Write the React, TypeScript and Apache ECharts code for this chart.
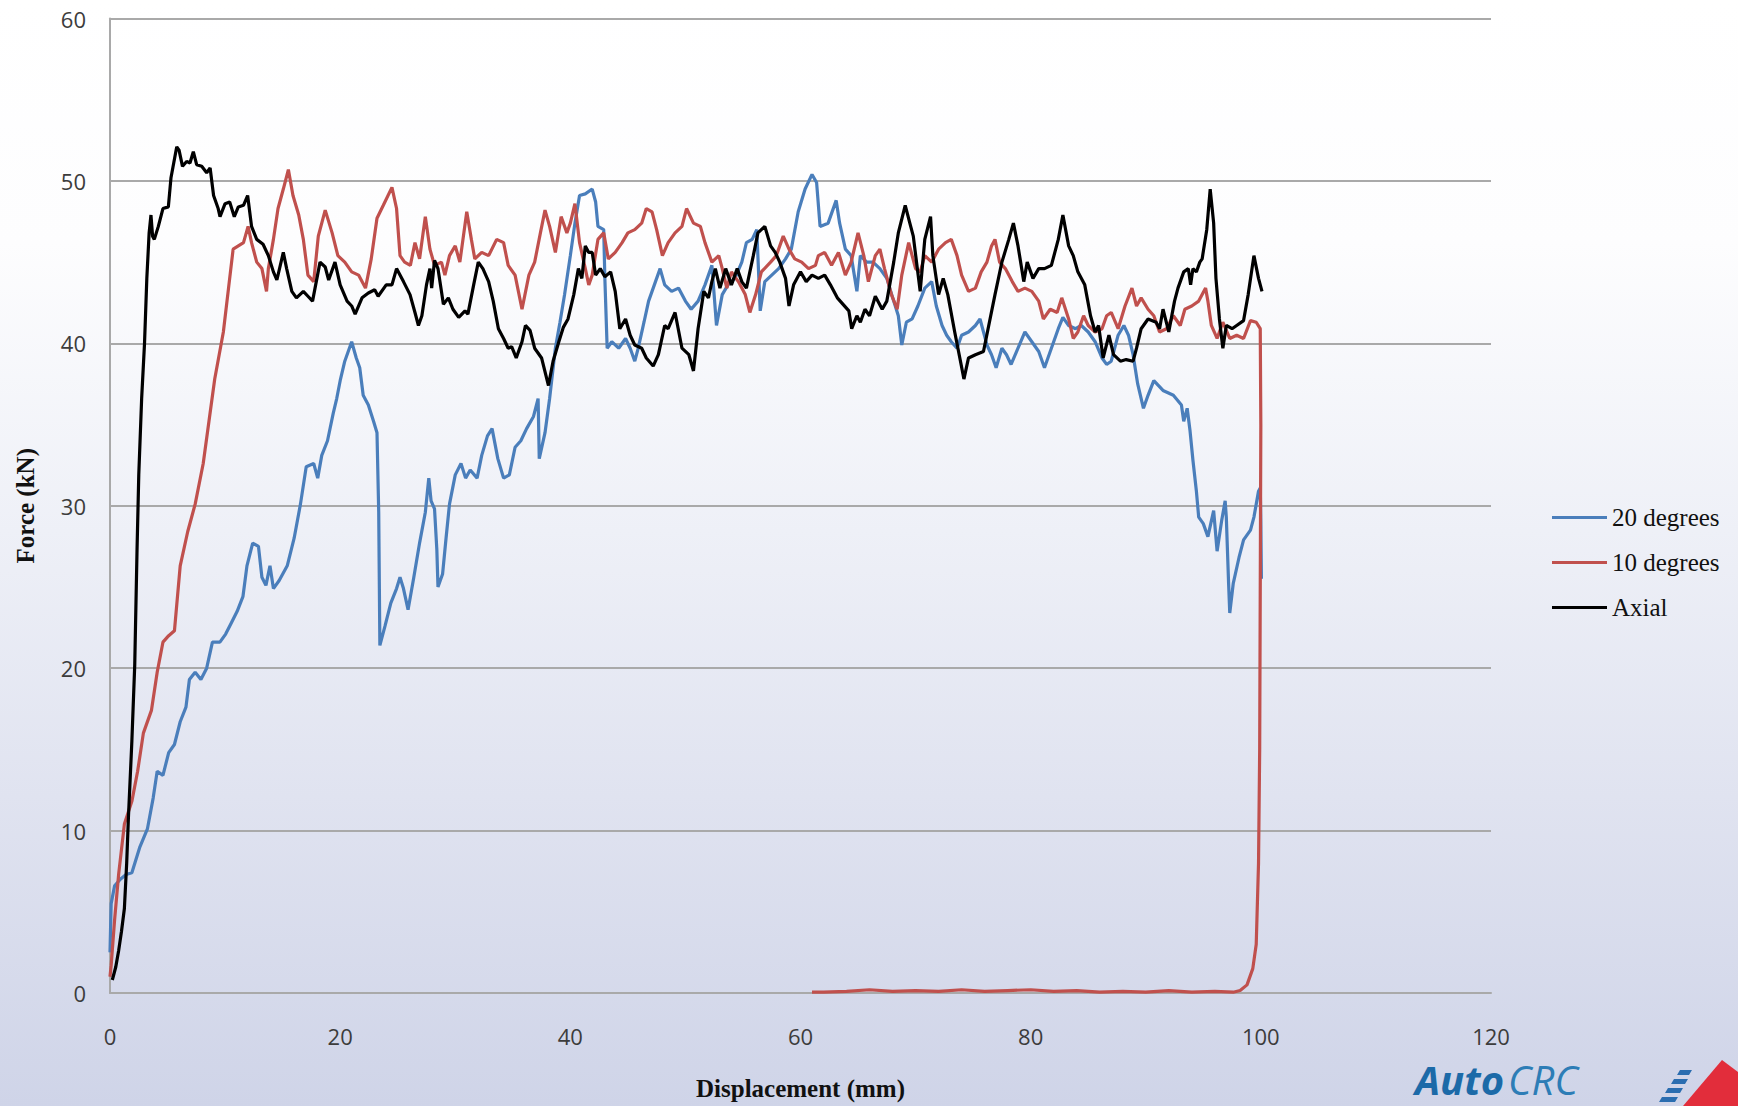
import React, { useEffect, useRef } from "react";
import * as echarts from "echarts";

const xTicks = { min: 0, max: 120, interval: 20 };
const yTicks = { min: 0, max: 60, interval: 10 };
const seriesNames = ["20 degrees", "10 degrees", "Axial"];
const seriesColors = ["#4a7ebb", "#c0504d", "#000000"];

const deg20: number[][] = [
  [0, 2.5], [0.1, 5.5], [0.4, 6.6], [0.9, 7.0], [1.4, 7.3], [1.9, 7.4], [2.6, 9.0], [3.25, 10.1], [3.75, 12.0], [4.1, 13.65],
  [4.6, 13.4], [5.1, 14.8], [5.6, 15.3], [6.1, 16.7], [6.6, 17.6], [6.9, 19.3], [7.4, 19.75], [7.9, 19.3], [8.4, 20.0], [8.9, 21.6],
  [9.55, 21.6], [10.05, 22.1], [10.55, 22.8], [11.05, 23.5], [11.55, 24.4], [11.9, 26.3], [12.4, 27.7], [12.9, 27.5], [13.2, 25.6], [13.55, 25.1],
  [13.9, 26.3], [14.2, 24.9], [14.7, 25.4], [15.4, 26.3], [16.0, 28.0], [16.55, 30.1], [17.05, 32.4], [17.7, 32.6], [18.05, 31.7], [18.4, 33.1],
  [18.9, 34.0], [19.4, 35.7], [19.7, 36.6], [20.0, 37.7], [20.4, 38.9], [21.0, 40.1], [21.4, 39.1], [21.7, 38.5], [22.0, 36.8], [22.45, 36.2],
  [22.9, 35.2], [23.2, 34.5], [23.35, 29.6], [23.45, 21.4], [23.9, 22.6], [24.4, 24.0], [24.9, 24.9], [25.2, 25.6], [25.5, 24.9], [25.9, 23.6],
  [26.4, 25.6], [26.9, 27.7], [27.4, 29.6], [27.7, 31.7], [27.9, 30.3], [28.2, 29.8], [28.4, 27.3], [28.5, 25.0], [28.9, 25.8], [29.2, 28.0],
  [29.5, 30.1], [30.0, 31.9], [30.5, 32.6], [30.9, 31.7], [31.3, 32.2], [31.9, 31.7], [32.3, 33.1], [32.8, 34.3], [33.2, 34.75], [33.7, 32.9],
  [34.2, 31.7], [34.7, 31.9], [35.2, 33.6], [35.7, 34.0], [36.2, 34.75], [36.8, 35.5], [37.2, 36.6], [37.3, 32.9], [37.8, 34.5], [38.2, 36.6],
  [38.7, 39.7], [39.1, 41.3], [39.5, 43.0], [40.0, 45.4], [40.4, 47.4], [40.8, 49.1], [41.3, 49.2], [41.9, 49.5], [42.2, 48.7], [42.4, 47.2],
  [42.9, 47.0], [43.0, 44.0], [43.2, 39.7], [43.6, 40.1], [44.2, 39.7], [44.8, 40.3], [45.2, 39.7], [45.6, 38.9], [45.9, 39.7], [46.4, 41.3],
  [46.8, 42.6], [47.4, 43.8], [47.8, 44.6], [48.2, 43.6], [48.8, 43.2], [49.4, 43.4], [50.0, 42.6], [50.5, 42.1], [51.1, 42.6], [51.7, 43.6],
  [52.3, 44.8], [52.7, 41.1], [53.2, 43.0], [53.7, 43.6], [54.3, 44.0], [54.9, 45.0], [55.3, 46.2], [55.8, 46.4], [56.2, 47.0], [56.5, 42.0],
  [56.9, 43.8], [57.5, 44.2], [58.1, 44.6], [58.7, 45.2], [59.2, 45.8], [59.8, 48.1], [60.4, 49.5], [61.0, 50.4], [61.4, 49.9], [61.7, 47.2],
  [62.4, 47.4], [63.1, 48.8], [63.4, 47.4], [63.9, 45.8], [64.4, 45.4], [64.9, 43.2], [65.2, 45.4], [65.75, 45.0], [66.3, 45.0], [66.9, 44.6],
  [67.5, 44.0], [68.1, 42.6], [68.5, 41.7], [68.8, 39.9], [69.2, 41.3], [69.7, 41.5], [70.2, 42.3], [70.8, 43.4], [71.4, 43.8], [71.8, 42.3],
  [72.3, 41.1], [72.7, 40.5], [73.1, 40.1], [73.6, 39.7], [74.0, 40.5], [74.6, 40.7], [75.2, 41.1], [75.6, 41.5], [76.2, 39.9], [76.6, 39.3],
  [77.0, 38.5], [77.5, 39.7], [77.9, 39.3], [78.3, 38.7], [78.9, 39.7], [79.5, 40.7], [80.1, 40.1], [80.7, 39.5], [81.2, 38.5], [81.8, 39.7],
  [82.4, 40.9], [82.8, 41.6], [83.3, 41.1], [83.9, 40.9], [84.4, 41.1], [85.0, 40.7], [85.6, 40.1], [86.2, 39.1], [86.6, 38.7], [87.0, 38.9],
  [87.6, 40.5], [88.1, 41.1], [88.5, 40.5], [88.9, 39.3], [89.3, 37.5], [89.8, 36.0], [90.2, 36.8], [90.7, 37.7], [91.5, 37.1], [92.4, 36.8],
  [93.1, 36.2], [93.3, 35.2], [93.6, 36.0], [93.85, 34.6], [94.1, 32.8], [94.4, 30.9], [94.6, 29.3], [95.0, 28.9], [95.4, 28.1], [95.9, 29.7],
  [96.2, 27.2], [96.6, 29.1], [96.9, 30.3], [97.0, 29.3], [97.2, 25.2], [97.3, 23.4], [97.6, 25.2], [98.1, 26.8], [98.5, 27.9], [99.1, 28.5],
  [99.4, 29.3], [99.8, 30.9], [99.95, 31.1], [100.0, 29.0], [100.05, 25.5],
];

const deg10: number[][] = [
  [0, 1.0], [0.1, 1.7], [0.4, 4.5], [0.75, 7.3], [1.25, 10.4], [1.9, 11.8], [2.4, 13.65], [2.9, 16.0], [3.6, 17.4], [4.1, 19.75],
  [4.6, 21.6], [5.1, 22.0], [5.6, 22.3], [6.1, 26.3], [6.75, 28.4], [7.4, 30.1], [8.1, 32.6], [8.6, 35.2], [9.1, 37.8], [9.85, 40.7],
  [10.3, 43.4], [10.7, 45.8], [11.15, 46.0], [11.6, 46.2], [12.0, 47.2], [12.3, 46.2], [12.75, 45.0], [13.2, 44.6], [13.6, 43.2], [13.76, 44.6],
  [14.2, 46.4], [14.6, 48.3], [15.06, 49.5], [15.5, 50.7], [15.9, 49.1], [16.4, 47.9], [16.8, 46.4], [17.2, 44.2], [17.7, 43.8], [18.1, 46.6],
  [18.7, 48.2], [19.3, 46.8], [19.8, 45.4], [20.4, 45.0], [21.0, 44.4], [21.6, 44.2], [22.2, 43.4], [22.7, 45.2], [23.2, 47.7], [23.75, 48.5],
  [24.5, 49.6], [24.9, 48.3], [25.2, 45.4], [25.6, 45.0], [26.1, 44.8], [26.5, 46.2], [26.9, 45.2], [27.4, 47.8], [27.8, 45.8], [28.2, 44.8],
  [28.8, 45.0], [29.1, 44.2], [29.5, 45.4], [30.0, 46.0], [30.4, 45.0], [31.0, 48.1], [31.4, 46.4], [31.7, 45.2], [32.3, 45.6], [32.9, 45.4],
  [33.6, 46.4], [34.2, 46.2], [34.6, 44.8], [35.2, 44.2], [35.8, 42.1], [36.4, 44.2], [36.9, 45.0], [37.4, 46.8], [37.8, 48.2], [38.2, 47.2],
  [38.7, 45.6], [39.2, 47.8], [39.7, 46.8], [40.0, 47.4], [40.4, 48.6], [40.8, 46.2], [41.3, 44.6], [41.6, 43.6], [41.9, 44.2], [42.4, 46.4],
  [42.9, 46.8], [43.3, 45.2], [43.9, 45.6], [44.5, 46.2], [45.0, 46.8], [45.6, 47.0], [46.2, 47.4], [46.6, 48.3], [47.1, 48.1], [47.5, 47.0],
  [48.0, 45.4], [48.5, 46.2], [49.1, 46.8], [49.7, 47.2], [50.1, 48.3], [50.7, 47.4], [51.3, 47.2], [51.7, 46.2], [52.3, 45.0], [52.9, 45.4],
  [53.2, 44.6], [53.6, 43.4], [54.0, 44.4], [54.6, 43.8], [55.2, 43.0], [55.6, 41.9], [56.1, 43.0], [56.6, 44.4], [57.4, 45.0], [57.9, 45.4],
  [58.5, 46.6], [59.0, 45.8], [59.5, 45.2], [60.1, 45.0], [60.7, 44.6], [61.3, 44.8], [61.55, 45.4], [62.1, 45.6], [62.7, 44.8], [63.3, 45.6],
  [63.9, 44.2], [64.4, 45.0], [65.0, 46.8], [65.5, 45.4], [65.9, 43.8], [66.5, 45.4], [66.9, 45.8], [67.3, 44.6], [67.9, 43.0], [68.4, 42.1],
  [68.8, 44.2], [69.4, 46.2], [70.0, 44.6], [70.4, 44.4], [70.8, 45.4], [71.4, 45.0], [72.0, 45.8], [72.6, 46.2], [73.1, 46.4], [73.6, 45.4],
  [74.0, 44.2], [74.6, 43.2], [75.2, 43.4], [75.7, 44.4], [76.2, 45.0], [76.6, 46.0], [76.9, 46.4], [77.3, 45.0], [77.8, 44.6], [78.4, 43.8],
  [78.9, 43.2], [79.5, 43.4], [80.1, 43.2], [80.7, 42.6], [81.1, 41.5], [81.7, 42.1], [82.3, 41.9], [82.7, 42.8], [83.3, 41.5], [83.7, 40.3],
  [84.1, 40.7], [84.6, 41.7], [85.0, 41.1], [85.6, 40.7], [86.2, 40.9], [86.6, 41.7], [87.0, 41.9], [87.6, 40.9], [88.2, 42.3], [88.8, 43.4],
  [89.2, 42.3], [89.6, 42.8], [90.2, 42.1], [90.7, 41.7], [91.2, 40.7], [91.8, 40.9], [92.4, 41.7], [93.0, 41.1], [93.4, 42.1], [94.0, 42.3],
  [94.6, 42.6], [95.2, 43.4], [95.4, 42.6], [95.7, 41.1], [96.2, 40.3], [96.7, 41.3], [97.3, 40.3], [97.9, 40.5], [98.5, 40.3], [99.1, 41.4],
  [99.6, 41.3], [99.95, 40.9], [100.0, 35], [99.95, 25], [99.9, 15], [99.8, 8], [99.6, 3], [99.3, 1.5], [98.8, 0.5], [98.2, 0.15],
  [97.6, 0.05], [96, 0.1], [94, 0.05], [92, 0.15], [90, 0.05], [88, 0.1], [86, 0.05], [84, 0.15], [82, 0.1], [80, 0.2],
  [78, 0.15], [76, 0.1], [74, 0.2], [72, 0.1], [70, 0.15], [68, 0.1], [66, 0.2], [64, 0.1], [62, 0.05], [61, 0.05],
];

const axial: number[][] = [
  [0.2, 0.8], [0.5, 1.6], [0.75, 2.6], [1.0, 3.8], [1.25, 5.2], [1.45, 8], [1.6, 10.8], [1.9, 15.5], [2.15, 20.2], [2.35, 27.3],
  [2.5, 31.9], [2.75, 36.6], [3.0, 40], [3.2, 44], [3.4, 46.8], [3.56, 47.9], [3.7, 46.6], [3.85, 46.4], [4.2, 47.2], [4.6, 48.3],
  [5.07, 48.4], [5.3, 50.2], [5.8, 52.1], [6.0, 51.9], [6.3, 50.9], [6.66, 51.2], [6.95, 51.1], [7.24, 51.8], [7.53, 51.0], [7.97, 50.9],
  [8.4, 50.5], [8.7, 50.8], [9.0, 49.1], [9.4, 48.3], [9.56, 47.8], [10.0, 48.6], [10.4, 48.7], [10.8, 47.8], [11.15, 48.4], [11.6, 48.5],
  [11.96, 49.1], [12.3, 47.2], [12.75, 46.4], [13.3, 46.1], [13.76, 45.4], [14.2, 44.4], [14.5, 43.9], [15.06, 45.6], [15.35, 44.6], [15.8, 43.2],
  [16.2, 42.8], [16.8, 43.2], [17.2, 42.9], [17.6, 42.6], [18.25, 45.0], [18.7, 44.7], [19.0, 43.9], [19.55, 45.0], [20.0, 43.6], [20.6, 42.6],
  [21.0, 42.3], [21.3, 41.8], [21.9, 42.8], [22.45, 43.1], [23.0, 43.3], [23.3, 42.9], [24.0, 43.6], [24.5, 43.6], [24.9, 44.6], [25.5, 43.8],
  [26.07, 43.0], [26.5, 41.9], [26.8, 41.1], [27.1, 41.7], [27.5, 43.6], [27.8, 44.6], [27.95, 43.4], [28.2, 45.1], [28.5, 44.6], [28.97, 42.4],
  [29.4, 42.8], [29.8, 42.1], [30.3, 41.6], [30.85, 42.0], [31.1, 41.8], [31.6, 43.6], [32.0, 45.0], [32.4, 44.6], [32.9, 43.8], [33.3, 42.6],
  [33.75, 40.9], [34.2, 40.3], [34.6, 39.7], [34.9, 39.8], [35.3, 39.1], [35.8, 40.1], [36.1, 41.1], [36.5, 40.8], [36.9, 39.7], [37.5, 39.1],
  [38.1, 37.4], [38.5, 38.9], [39.0, 40.1], [39.4, 41.0], [39.8, 41.5], [40.3, 43.0], [40.7, 44.6], [41.0, 44.0], [41.3, 46.0], [41.6, 45.6],
  [41.9, 45.6], [42.2, 44.2], [42.6, 44.6], [43.0, 44.1], [43.5, 44.4], [43.9, 43.2], [44.3, 40.9], [44.8, 41.5], [45.2, 40.5], [45.6, 39.9],
  [46.2, 39.7], [46.6, 39.1], [47.2, 38.6], [47.65, 39.3], [48.2, 41.1], [48.5, 40.9], [49.1, 41.9], [49.7, 39.7], [50.3, 39.3], [50.7, 38.3],
  [51.1, 40.9], [51.6, 43.2], [52.0, 42.8], [52.3, 43.8], [52.6, 44.6], [53.0, 43.4], [53.5, 44.6], [54.0, 43.6], [54.5, 44.6], [54.9, 43.8],
  [55.3, 43.4], [55.9, 45.4], [56.3, 46.8], [56.9, 47.2], [57.4, 46.0], [57.8, 45.6], [58.2, 45.0], [58.7, 44.0], [59.0, 42.3], [59.4, 43.6],
  [60.0, 44.4], [60.5, 43.8], [61.0, 44.2], [61.55, 44.0], [62.1, 44.2], [62.6, 43.6], [63.2, 42.8], [63.7, 42.4], [64.2, 42.0], [64.45, 40.9],
  [64.9, 41.7], [65.2, 41.3], [65.6, 42.1], [66.0, 41.7], [66.5, 42.9], [67.1, 42.1], [67.5, 42.6], [68.1, 45.0], [68.5, 46.8], [69.1, 48.5],
  [69.5, 47.4], [69.8, 46.6], [70.4, 43.2], [70.8, 46.4], [71.3, 47.8], [71.5, 45.4], [72.0, 43.0], [72.4, 44.0], [72.8, 43.0], [73.4, 40.7],
  [73.9, 38.9], [74.2, 37.8], [74.6, 39.1], [75.2, 39.3], [75.9, 39.5], [76.3, 40.9], [76.9, 43.0], [77.5, 45.0], [78.1, 46.4], [78.5, 47.4],
  [78.9, 46.0], [79.4, 43.8], [79.7, 45.0], [80.2, 44.0], [80.7, 44.6], [81.2, 44.6], [81.8, 44.8], [82.4, 46.4], [82.8, 47.9], [83.3, 46.0],
  [83.7, 45.4], [84.1, 44.4], [84.7, 43.6], [85.2, 41.7], [85.6, 40.7], [85.9, 41.1], [86.3, 39.1], [86.8, 40.5], [87.2, 39.3], [87.8, 38.9],
  [88.3, 39.0], [88.9, 38.9], [89.2, 39.7], [89.6, 40.9], [90.2, 41.5], [90.9, 41.3], [91.2, 40.9], [91.5, 42.1], [92.0, 40.7], [92.5, 42.6],
  [92.8, 43.4], [93.3, 44.4], [93.7, 44.6], [93.9, 43.6], [94.1, 44.6], [94.4, 44.4], [94.7, 45.0], [94.9, 45.2], [95.3, 47.0], [95.6, 49.5],
  [95.9, 47.4], [96.1, 44.0], [96.4, 41.5], [96.7, 39.7], [97.0, 41.1], [97.5, 40.9], [97.9, 41.1], [98.5, 41.4], [98.9, 43.0], [99.4, 45.4],
  [99.8, 44.0], [100.1, 43.2],
];

const seriesData = [deg20, deg10, axial];

export default function App() {
  const ref = useRef<HTMLDivElement>(null);
  useEffect(() => {
    if (!ref.current) return;
    const chart = echarts.init(ref.current, null, { renderer: "svg" });
    const gridColor = "#a9a9a9";
    const option: any = {
      animation: false,
      backgroundColor: "transparent",
      grid: { left: 110, right: 247, top: 18.5, bottom: 108, containLabel: false },
      xAxis: {
        type: "value",
        min: xTicks.min,
        max: xTicks.max,
        interval: xTicks.interval,
        name: "Displacement (mm)",
        nameLocation: "middle",
        nameGap: 83,
        nameTextStyle: { fontFamily: "Liberation Serif", fontWeight: "bold", fontSize: 25, color: "#111" },
        axisLine: { show: true, lineStyle: { color: gridColor, width: 2 } },
        axisTick: { show: false },
        splitLine: { show: false },
        axisLabel: { fontFamily: "Open Sans", fontSize: 22, color: "#3c3c3c", margin: 32 },
      },
      yAxis: {
        type: "value",
        min: yTicks.min,
        max: yTicks.max,
        interval: yTicks.interval,
        name: "Force (kN)",
        nameLocation: "middle",
        nameGap: 72,
        nameTextStyle: { fontFamily: "Liberation Serif", fontWeight: "bold", fontSize: 25, color: "#111" },
        axisLine: { show: true, lineStyle: { color: gridColor, width: 2 } },
        axisTick: { show: false },
        splitLine: { show: true, lineStyle: { color: gridColor, width: 2 } },
        axisLabel: { fontFamily: "Open Sans", fontSize: 22, color: "#3c3c3c", margin: 24 },
      },
      legend: {
        orient: "vertical",
        left: 1552,
        top: 505,
        icon: "rect",
        itemWidth: 55,
        itemHeight: 3,
        itemGap: 20,
        padding: 0,
        textStyle: { fontFamily: "Liberation Serif", fontSize: 25, color: "#111", lineHeight: 25 },
        data: seriesNames,
      },
      series: seriesNames.map((name, i) => ({
        name,
        type: "line",
        data: seriesData[i],
        symbol: "none",
        showSymbol: false,
        smooth: false,
        lineStyle: { color: seriesColors[i], width: 3.2 },
        itemStyle: { color: seriesColors[i] },
        z: 2 + i,
      })),
      graphic: [
        {
          type: "text",
          x: 1415,
          y: 1099,
          style: {
            text: "Auto",
            fontFamily: "Open Sans",
            fontWeight: "bold",
            fontStyle: "italic",
            fontSize: 40,
            lineHeight: 40,
            fill: "#1c6aa8",
            textAlign: "left",
            textVerticalAlign: "bottom",
            verticalAlign: "bottom",
          },
        },
        {
          type: "text",
          x: 1508,
          y: 1099,
          style: {
            text: "CRC",
            fontFamily: "Open Sans",
            fontWeight: "normal",
            fontStyle: "italic",
            fontSize: 40,
            lineHeight: 40,
            fill: "#2d7db6",
            textAlign: "left",
            textVerticalAlign: "bottom",
            verticalAlign: "bottom",
          },
        },
        { type: "polygon", shape: { points: [[1683, 1106], [1722, 1060], [1738, 1072], [1738, 1106]] }, style: { fill: "#e22d3b" } },
        { type: "polygon", shape: { points: [[1680, 1070], [1692, 1070], [1689, 1075], [1677, 1075]] }, style: { fill: "#2a6db0" } },
        { type: "polygon", shape: { points: [[1674, 1079], [1688, 1079], [1685, 1084], [1671, 1084]] }, style: { fill: "#2a6db0" } },
        { type: "polygon", shape: { points: [[1668, 1088], [1683, 1088], [1680, 1093], [1665, 1093]] }, style: { fill: "#2a6db0" } },
        { type: "polygon", shape: { points: [[1662, 1097], [1678, 1097], [1675, 1102], [1659, 1102]] }, style: { fill: "#2a6db0" } },
      ],
    };
    chart.setOption(option);
    return () => chart.dispose();
  }, []);
  return (
    <div
      style={{
        position: "absolute",
        left: 0,
        top: 0,
        width: 1738,
        height: 1106,
        overflow: "hidden",
        background: "linear-gradient(to bottom, #ffffff 0%, #fdfdfe 22%, #eef0f7 48%, #e0e3f0 72%, #cfd4e8 100%)",
      }}
    >
      <div ref={ref} style={{ width: 1738, height: 1106 }} />
    </div>
  );
}
